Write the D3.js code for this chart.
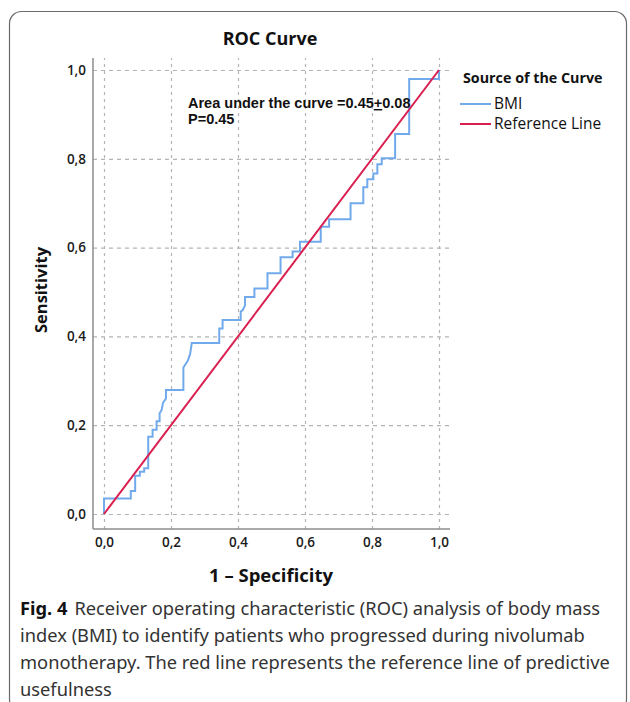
<!DOCTYPE html>
<html>
<head>
<meta charset="utf-8">
<script src="https://cdn.jsdelivr.net/npm/d3@7"></script>
<style>
  body { margin: 0; background: #fff; }
  svg { display: block; }
</style>
</head>
<body>
<svg id="chart" width="630" height="702"></svg>
<script>
// ROC curve vertices (1 - specificity, sensitivity)
const fpr = [0, 0, 0.08, 0.08, 0.093, 0.093, 0.107, 0.107, 0.12, 0.12, 0.132, 0.132, 0.145, 0.145,
  0.157, 0.157, 0.166, 0.166, 0.172, 0.176, 0.185, 0.185, 0.237, 0.237, 0.25, 0.257, 0.262,
  0.344, 0.344, 0.354, 0.354, 0.408, 0.408, 0.414, 0.421, 0.421, 0.449, 0.449, 0.488, 0.488,
  0.527, 0.527, 0.563, 0.563, 0.585, 0.585, 0.647, 0.647, 0.672, 0.672, 0.736, 0.736, 0.774,
  0.774, 0.786, 0.786, 0.804, 0.804, 0.816, 0.816, 0.829, 0.829, 0.869, 0.869, 0.911, 0.911,
  1.0, 1.0];
const tpr = [0, 0.035, 0.035, 0.052, 0.052, 0.086, 0.086, 0.095, 0.095, 0.103, 0.103, 0.174, 0.174, 0.19,
  0.19, 0.209, 0.209, 0.227, 0.234, 0.25, 0.26, 0.279, 0.279, 0.33, 0.345, 0.36, 0.385,
  0.385, 0.418, 0.418, 0.437, 0.437, 0.456, 0.459, 0.47, 0.489, 0.489, 0.508, 0.508, 0.542,
  0.542, 0.578, 0.578, 0.591, 0.591, 0.613, 0.613, 0.647, 0.647, 0.664, 0.664, 0.700, 0.700,
  0.736, 0.736, 0.754, 0.754, 0.767, 0.767, 0.788, 0.788, 0.801, 0.801, 0.856, 0.856, 0.98,
  0.98, 1.0];
const refX = [0, 1];
const refY = [0, 1];
const tickValues = [0, 0.2, 0.4, 0.6, 0.8, 1.0];
const tickLabels = ["0,0", "0,2", "0,4", "0,6", "0,8", "1,0"];
const seriesNames = ["BMI", "Reference Line"];
const captionLines = [
  "Receiver operating characteristic (ROC) analysis of body mass",
  "index (BMI) to identify patients who progressed during nivolumab",
  "monotherapy. The red line represents the reference line of predictive",
  "usefulness"
];

const svg = d3.select("#chart");
const blue = "#71aaec";
const red = "#d91f4f";
const gridColor = "#b4b4b4";
const axisColor = "#8c8c8c";
const sans = "'Liberation Sans', Arial, sans-serif";
const titleFont = "'Open Sans', 'Noto Sans', sans-serif";

// outer rounded frame (cut off at right and bottom)
svg.append("rect")
  .attr("x", 9.5).attr("y", 11.5)
  .attr("width", 617).attr("height", 700)
  .attr("rx", 12)
  .attr("fill", "none")
  .attr("stroke", "#6a6a6a")
  .attr("stroke-width", 1.2);

const x = d3.scaleLinear().domain([0, 1]).range([104, 439]);
const y = d3.scaleLinear().domain([0, 1]).range([514, 70]);
const boxLeft = 93, boxRight = 450, boxTop = 58, boxBottom = 529;

// grid lines
const xGrid = svg.append("g")
  .attr("transform", `translate(0,${boxBottom})`)
  .call(d3.axisBottom(x).tickValues(tickValues).tickSize(-(boxBottom - boxTop)).tickFormat(""));
xGrid.select(".domain").remove();
xGrid.selectAll(".tick line")
  .attr("stroke", gridColor).attr("stroke-width", 1.2).attr("stroke-dasharray", "3,4");

const yGrid = svg.append("g")
  .attr("transform", `translate(${boxLeft},0)`)
  .call(d3.axisLeft(y).tickValues(tickValues).tickSize(-(boxRight - boxLeft)).tickFormat(""));
yGrid.select(".domain").remove();
yGrid.selectAll(".tick line")
  .attr("stroke", gridColor).attr("stroke-width", 1.2).attr("stroke-dasharray", "4,4");

// tick labels
const xAxis = svg.append("g")
  .attr("transform", `translate(0,${boxBottom})`)
  .call(d3.axisBottom(x).tickValues(tickValues).tickSize(0).tickPadding(8)
    .tickFormat((d, i) => tickLabels[i]));
xAxis.select(".domain").remove();
xAxis.selectAll(".tick text")
  .attr("font-family", titleFont).attr("font-size", 13.5).attr("font-weight", 600).attr("fill", "#1a1a1a");

const yAxis = svg.append("g")
  .attr("transform", `translate(${boxLeft},0)`)
  .call(d3.axisLeft(y).tickValues(tickValues).tickSize(0).tickPadding(7)
    .tickFormat((d, i) => tickLabels[i]));
yAxis.select(".domain").remove();
yAxis.selectAll(".tick text")
  .attr("font-family", titleFont).attr("font-size", 13.5).attr("font-weight", 600).attr("fill", "#1a1a1a");

// axis lines
svg.append("line")
  .attr("x1", boxLeft).attr("x2", boxLeft).attr("y1", boxTop).attr("y2", boxBottom)
  .attr("stroke", axisColor).attr("stroke-width", 1.5);
svg.append("line")
  .attr("x1", boxLeft).attr("x2", boxRight).attr("y1", boxBottom).attr("y2", boxBottom)
  .attr("stroke", axisColor).attr("stroke-width", 1.5);

// curves
const line = d3.line().x(d => x(d[0])).y(d => y(d[1]));
svg.append("path")
  .datum(fpr.map((f, i) => [f, tpr[i]]))
  .attr("d", line)
  .attr("fill", "none").attr("stroke", blue).attr("stroke-width", 2);
svg.append("path")
  .datum(refX.map((f, i) => [f, refY[i]]))
  .attr("d", line)
  .attr("fill", "none").attr("stroke", red).attr("stroke-width", 2);

// titles
svg.append("text")
  .attr("x", 270).attr("y", 45)
  .attr("text-anchor", "middle")
  .attr("font-family", titleFont).attr("font-weight", "bold").attr("font-size", 18)
  .attr("fill", "#111")
  .text("ROC Curve");

svg.append("text")
  .attr("x", 271).attr("y", 582)
  .attr("text-anchor", "middle")
  .attr("font-family", titleFont).attr("font-weight", "bold").attr("font-size", 18.5)
  .attr("fill", "#111")
  .text("1 \u2013 Specificity");

svg.append("text")
  .attr("transform", "translate(47,290) rotate(-90)")
  .attr("text-anchor", "middle")
  .attr("font-family", titleFont).attr("font-weight", "bold").attr("font-size", 16.5)
  .attr("fill", "#111")
  .text("Sensitivity");

// annotation
const ann = svg.append("text")
  .attr("x", 188).attr("y", 108)
  .attr("font-family", sans).attr("font-weight", "bold").attr("font-size", 14.5)
  .attr("fill", "#111");
ann.append("tspan").text("Area under the curve =0.45");
ann.append("tspan").attr("text-decoration", "underline").text("+");
ann.append("tspan").text("0.08");
svg.append("text")
  .attr("x", 188).attr("y", 124)
  .attr("font-family", sans).attr("font-weight", "bold").attr("font-size", 14.5)
  .attr("fill", "#111")
  .text("P=0.45");

// legend
svg.append("text")
  .attr("x", 463).attr("y", 83)
  .attr("font-family", titleFont).attr("font-weight", "bold").attr("font-size", 14.3)
  .attr("fill", "#111")
  .text("Source of the Curve");
const legendColors = [blue, red];
seriesNames.forEach((name, i) => {
  const ly = 104 + i * 20;
  svg.append("line")
    .attr("x1", 460).attr("x2", 491).attr("y1", ly).attr("y2", ly)
    .attr("stroke", legendColors[i]).attr("stroke-width", 2);
  svg.append("text")
    .attr("x", 494).attr("y", ly + 5)
    .attr("font-family", titleFont).attr("font-size", 15.5)
    .attr("fill", "#111")
    .text(name);
});

// caption
const capFont = "'Noto Sans', 'Open Sans', sans-serif";
captionLines.forEach((txt, i) => {
  const t = svg.append("text")
    .attr("x", 20).attr("y", 615 + i * 27)
    .attr("font-family", capFont).attr("font-size", 18.3)
    .attr("fill", "#333");
  if (i === 0) {
    t.append("tspan").attr("font-weight", "bold").attr("fill", "#111").text("Fig. 4");
    t.append("tspan").attr("dx", 7).text(txt);
  } else {
    t.text(txt);
  }
});
</script>
</body>
</html>
